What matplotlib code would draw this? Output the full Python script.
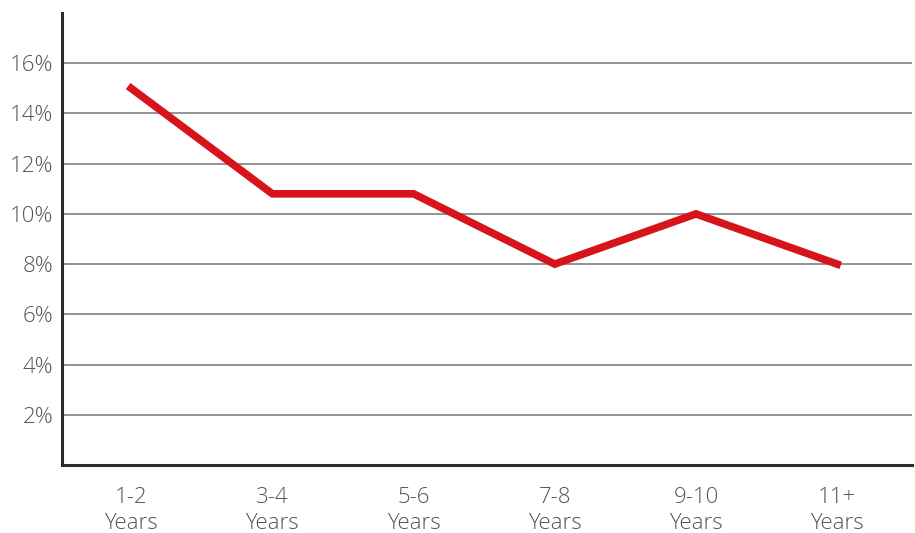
import matplotlib
matplotlib.use("Agg")
import matplotlib.pyplot as plt
from matplotlib.ticker import FuncFormatter

categories = ["1-2\nYears", "3-4\nYears", "5-6\nYears", "7-8\nYears", "9-10\nYears", "11+\nYears"]
values = [15.0, 10.8, 10.8, 8.0, 10.0, 8.0]
y_ticks = [2, 4, 6, 8, 10, 12, 14, 16]

plt.rcParams['font.family'] = ['Open Sans', 'DejaVu Sans']

fig = plt.figure(figsize=[9.15, 5.33], dpi=100)
ax = fig.add_axes([62/915, 68/533, 850/915, 452/533])

x = list(range(len(categories)))
ax.plot(x, values, color='#d7141a', linewidth=5.5, solid_joinstyle='miter', zorder=3)

for t in y_ticks:
    ax.axhline(t, color='#8a8a8a', linewidth=1.3, zorder=1)

ax.set_xlim(-0.49, 5.53)
ax.set_ylim(0, 18)
ax.set_yticks(y_ticks)
ax.yaxis.set_major_formatter(FuncFormatter(lambda v, p: f"{v:.0f}%"))
ax.set_xticks(x)
ax.set_xticklabels(categories, linespacing=1.3)

ax.tick_params(length=0, labelsize=16, labelcolor='#555555')
ax.tick_params(axis='y', pad=6)
ax.tick_params(axis='x', pad=16)
for lab in ax.get_xticklabels() + ax.get_yticklabels():
    lab.set_fontweight('light')

for s in ['top', 'right']:
    ax.spines[s].set_visible(False)
for s in ['left', 'bottom']:
    ax.spines[s].set_color('#2b2b2b')
    ax.spines[s].set_linewidth(2.2)

plt.savefig('out.png', dpi=100)
